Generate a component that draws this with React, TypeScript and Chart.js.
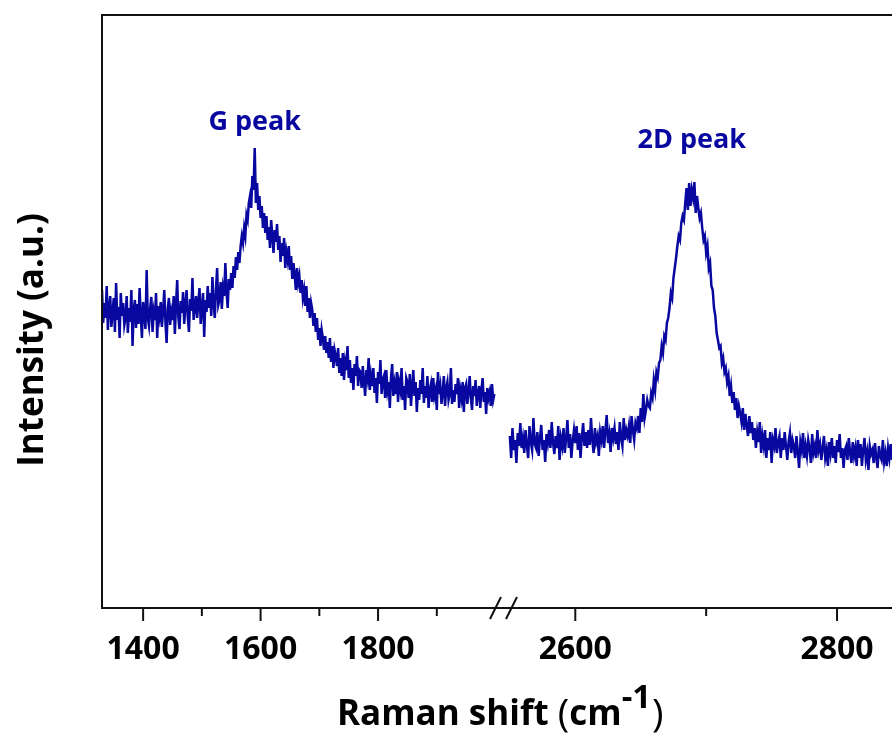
import React, { useEffect, useRef } from "react";
import { Chart, registerables } from "chart.js";

Chart.register(...registerables);

// Raman spectrum, low-wavenumber segment (cm-1, sampled every 2 cm-1 starting at 1330)
const LEFT_START = 1330;
const LEFT_STEP = 2;
const leftIntensity = [
  318, 285, 305, 290, 322, 278, 300, 312, 281, 296,
  310, 276, 325, 288, 301, 270, 315, 292, 305, 283,
  290, 312, 275, 300, 286, 318, 262, 298, 308, 280,
  304, 284, 320, 291, 270, 306, 295, 279, 338, 290,
  282, 300, 311, 276, 296, 288, 315, 270, 302, 292,
  306, 281, 297, 318, 286, 265, 300, 310, 283, 296,
  288, 312, 274, 303, 328, 290, 279, 307, 295, 316,
  284, 303, 318, 291, 276, 309, 297, 330, 288, 300,
  312, 290, 306, 320, 284, 299, 315, 271, 308, 296,
  322, 300, 315, 292, 331, 305, 290, 318, 340, 303,
  308, 326, 299, 320, 312, 345, 316, 300, 329, 318,
  335, 320, 342, 330, 351, 338, 356, 345, 362, 372,
  365, 380, 372, 393, 388, 405, 412, 400, 432, 418,
  460, 405, 425, 398, 412, 390, 402, 380, 395, 375,
  392, 368, 381, 360, 388, 372, 355, 378, 366, 384,
  358, 372, 346, 365, 352, 370, 340, 356, 348, 362,
  338, 352, 329, 345, 333, 318, 340, 325, 332, 315,
  328, 310, 318, 302, 322, 296, 310, 290, 305, 298,
  282, 295, 276, 290, 268, 280, 262, 278, 270, 258,
  272, 255, 266, 250, 270, 246, 262, 240, 258, 252,
  242, 260, 235, 250, 232, 255, 228, 246, 238, 262,
  230, 248, 225, 240, 218, 244, 232, 252, 222, 238,
  236, 220, 242, 226, 212, 238, 230, 250, 218, 232,
  222, 240, 215, 230, 205, 236, 224, 248, 214, 228,
  232, 210, 238, 218, 226, 200, 230, 244, 212, 224,
  214, 236, 206, 225, 218, 240, 208, 222, 198, 230,
  226, 210, 234, 202, 220, 238, 212, 226, 196, 220,
  208, 228, 214, 240, 205, 222, 210, 232, 200, 218,
  224, 206, 230, 212, 218, 198, 236, 214, 222, 204,
  216, 232, 202, 220, 226, 208, 214, 240, 204, 218,
  206, 224, 214, 230, 200, 218, 210, 226, 196, 220,
  224, 204, 216, 232, 210, 198, 222, 212, 228, 202,
  214, 222, 200, 218, 230, 206, 216, 194, 220, 210,
  216, 202, 224, 208, 214,
];

// High-wavenumber segment (cm-1, sampled every 1 cm-1 starting at 2550)
const RIGHT_START = 2550;
const RIGHT_STEP = 1;
const rightIntensity = [
  172, 150, 180, 158, 168, 145, 175, 162, 185, 160,
  170, 155, 178, 163, 150, 182, 166, 158, 190, 164,
  160, 176, 152, 170, 183, 158, 168, 146, 174, 165,
  178, 160, 186, 165, 154, 172, 160, 182, 148, 170,
  162, 180, 155, 170, 188, 160, 174, 150, 167, 178,
  165, 182, 158, 175, 150, 171, 185, 162, 176, 160,
  178, 163, 190, 168, 155, 180, 166, 172, 152, 176,
  168, 182, 160, 177, 193, 165, 174, 156, 180, 170,
  180, 164, 176, 158, 186, 170, 162, 190, 168, 178,
  172, 182, 165, 192, 178, 168, 185,
  180, 192, 175, 200, 186, 214, 190, 198, 208, 202,
  200, 215, 210, 228, 218, 236, 231, 245, 248, 262,
  255, 272, 268, 285, 290, 300, 315, 310, 330, 340,
  350, 362, 372, 368, 385, 392, 388, 405, 420, 398,
  425, 402, 418, 410, 426, 395, 412, 400, 390, 395,
  380, 368, 372, 355, 362, 340, 345, 322, 318, 300,
  292, 275, 268, 260, 262, 245, 250, 236, 240, 226,
  232, 212, 222, 205, 216, 198, 210, 190, 202, 195,
  186, 200, 178, 194, 182, 172, 192, 175, 186, 168,
  180, 160, 176, 166, 186, 155, 172, 162, 178, 150,
  170, 158, 176, 145, 168, 162, 180, 155, 166, 172,
  150, 170, 158, 176, 162, 148, 166, 175, 155, 168,
  162, 150, 172, 156, 140, 166, 158, 175, 150, 162,
  152, 168, 160, 145, 174, 155, 162, 150, 178, 158,
  164, 148, 160, 172, 150, 158, 142, 166, 155, 170,
  150, 162, 145, 168, 156, 174, 150, 160, 140, 158,
  162, 148, 170, 155, 145, 166, 152, 160, 142, 168,
  150, 164, 142, 158, 170, 148, 156, 138, 162, 154,
  158, 145, 165, 150, 140, 162, 152, 148, 168, 146,
  155, 142, 160, 150, 164, 148,
];

// Axis ranges of the two segments of the broken x axis
const leftRange = [1330, 2011];
const rightRange = [2544, 2842];
const yRange = [0, 593];

// Tick values
const leftTicks = [1400, 1500, 1600, 1700, 1800, 1900];
const rightTicks = [2600, 2700, 2800];
const labelledTicks = [1400, 1600, 1800, 2600, 2800];

// Peak annotations
const peakLabels = ["G peak", "2D peak"];
const peakX = [1590, 2689];
const peakY = [478, 460];
const peakAxis = ["x1", "x2"];

const xTitleParts = ["Raman shift ", "(", "cm", "-1", ")"];
const yTitle = "Intensity (a.u.)";

const BLUE = "#0808a0";
const FONT = "'Open Sans', 'DejaVu Sans', sans-serif";

const overlayPlugin = {
  id: "overlay",
  afterDraw(chart: any) {
    const ctx = chart.ctx as CanvasRenderingContext2D;
    const { left, right, top, bottom } = chart.chartArea;
    const x1 = chart.scales.x1;
    const x2 = chart.scales.x2;
    const yS = chart.scales.y;
    ctx.save();
    // frame (left, top, bottom)
    ctx.strokeStyle = "#111";
    ctx.lineWidth = 2;
    ctx.lineCap = "butt";
    ctx.beginPath();
    ctx.moveTo(left, bottom);
    ctx.lineTo(left, top);
    ctx.lineTo(right + 2, top);
    ctx.moveTo(left - 1, bottom);
    ctx.lineTo(right + 2, bottom);
    ctx.stroke();
    // ticks
    const drawTicks = (sc: any, vals: number[]) => {
      vals.forEach((v) => {
        const px = sc.getPixelForValue(v);
        const len = labelledTicks.includes(v) ? 13 : 8;
        ctx.beginPath();
        ctx.moveTo(px, bottom);
        ctx.lineTo(px, bottom + len);
        ctx.stroke();
      });
    };
    drawTicks(x1, leftTicks);
    drawTicks(x2, rightTicks);
    // axis break marks
    const bx = x1.right;
    ctx.beginPath();
    ctx.moveTo(bx - 12, bottom + 11);
    ctx.lineTo(bx - 1, bottom - 11);
    ctx.moveTo(bx + 4, bottom + 11);
    ctx.lineTo(bx + 15, bottom - 11);
    ctx.stroke();

    // peak labels
    ctx.fillStyle = BLUE;
    ctx.font = `bold 27px ${FONT}`;
    ctx.textAlign = "center";
    ctx.textBaseline = "alphabetic";
    peakLabels.forEach((lab, i) => {
      const sc = peakAxis[i] === "x1" ? x1 : x2;
      ctx.fillText(lab, sc.getPixelForValue(peakX[i]), yS.getPixelForValue(peakY[i]));
    });

    // x title
    ctx.fillStyle = "#000";
    ctx.textAlign = "left";
    const base = 725;
    let cx = 337;
    const fonts = [
      `bold 35px ${FONT}`,
      `normal 39px ${FONT}`,
      `bold 35px ${FONT}`,
      `bold 33px ${FONT}`,
      `normal 39px ${FONT}`,
    ];
    const bases = [base, base + 2, base, base - 17, base + 2];
    xTitleParts.forEach((p, i) => {
      ctx.font = fonts[i];
      ctx.fillText(p, cx, bases[i]);
      cx += ctx.measureText(p).width + (i === 3 ? 1 : 0);
    });

    // y title
    ctx.save();
    ctx.translate(43, 340);
    ctx.rotate(-Math.PI / 2);
    ctx.font = `bold 35px ${FONT}`;
    ctx.textAlign = "center";
    ctx.fillText(yTitle, 0, 0);
    ctx.restore();
    ctx.restore();
  },
};

export default function App() {
  const ref = useRef<HTMLCanvasElement | null>(null);
  useEffect(() => {
    if (!ref.current) return;
    document.body.style.margin = "0";
    document.body.style.overflow = "hidden";
    const leftData = leftIntensity.map((y, i) => ({ x: LEFT_START + i * LEFT_STEP, y }));
    const rightData = rightIntensity.map((y, i) => ({ x: RIGHT_START + i * RIGHT_STEP, y }));
    const tickFont = { family: FONT, size: 32, weight: "bold" as const };
    const xCommon = (min: number, max: number, weight: number, vals: number[]) => ({
      type: "linear" as const,
      position: "bottom" as const,
      stack: "xs",
      stackWeight: weight,
      min,
      max,
      grid: { display: false, drawTicks: false },
      border: { display: false },
      afterBuildTicks: (s: any) => {
        s.ticks = vals.map((v) => ({ value: v }));
      },
      ticks: {
        autoSkip: false,
        maxRotation: 0,
        minRotation: 0,
        padding: 23,
        color: "#000",
        font: tickFont,
        callback: (v: any) => (labelledTicks.includes(Number(v)) ? String(v) : ""),
      },
      afterFit: (s: any) => {
        s.height = 130;
        s.paddingLeft = 0;
        s.paddingRight = 0;
        s.paddingTop = 0;
        s.paddingBottom = 0;
      },
    });
    const chart = new Chart(ref.current, {
      type: "line",
      data: {
        datasets: [
          {
            data: leftData,
            xAxisID: "x1",
            yAxisID: "y",
            borderColor: BLUE,
            borderWidth: 2.5,
            pointRadius: 0,
            tension: 0,
          },
          {
            data: rightData,
            xAxisID: "x2",
            yAxisID: "y",
            borderColor: BLUE,
            borderWidth: 2.5,
            pointRadius: 0,
            tension: 0,
          },
        ],
      },
      options: {
        responsive: false,
        animation: false,
        devicePixelRatio: 1,
        layout: { padding: { left: 102, top: 15, right: 0, bottom: 0 } },
        plugins: { legend: { display: false }, tooltip: { enabled: false } },
        scales: {
          x1: xCommon(leftRange[0], leftRange[1], 400, leftTicks),
          x2: xCommon(rightRange[0], rightRange[1], 390, rightTicks),
          y: { type: "linear", display: false, min: yRange[0], max: yRange[1] },
        },
      },
      plugins: [overlayPlugin],
    });
    return () => chart.destroy();
  }, []);
  return (
    <div style={{ position: "absolute", left: 0, top: 0, width: 892, height: 738, overflow: "hidden", background: "#fff" }}>
      <canvas ref={ref} width={892} height={738} style={{ display: "block", width: 892, height: 738 }} />
    </div>
  );
}
